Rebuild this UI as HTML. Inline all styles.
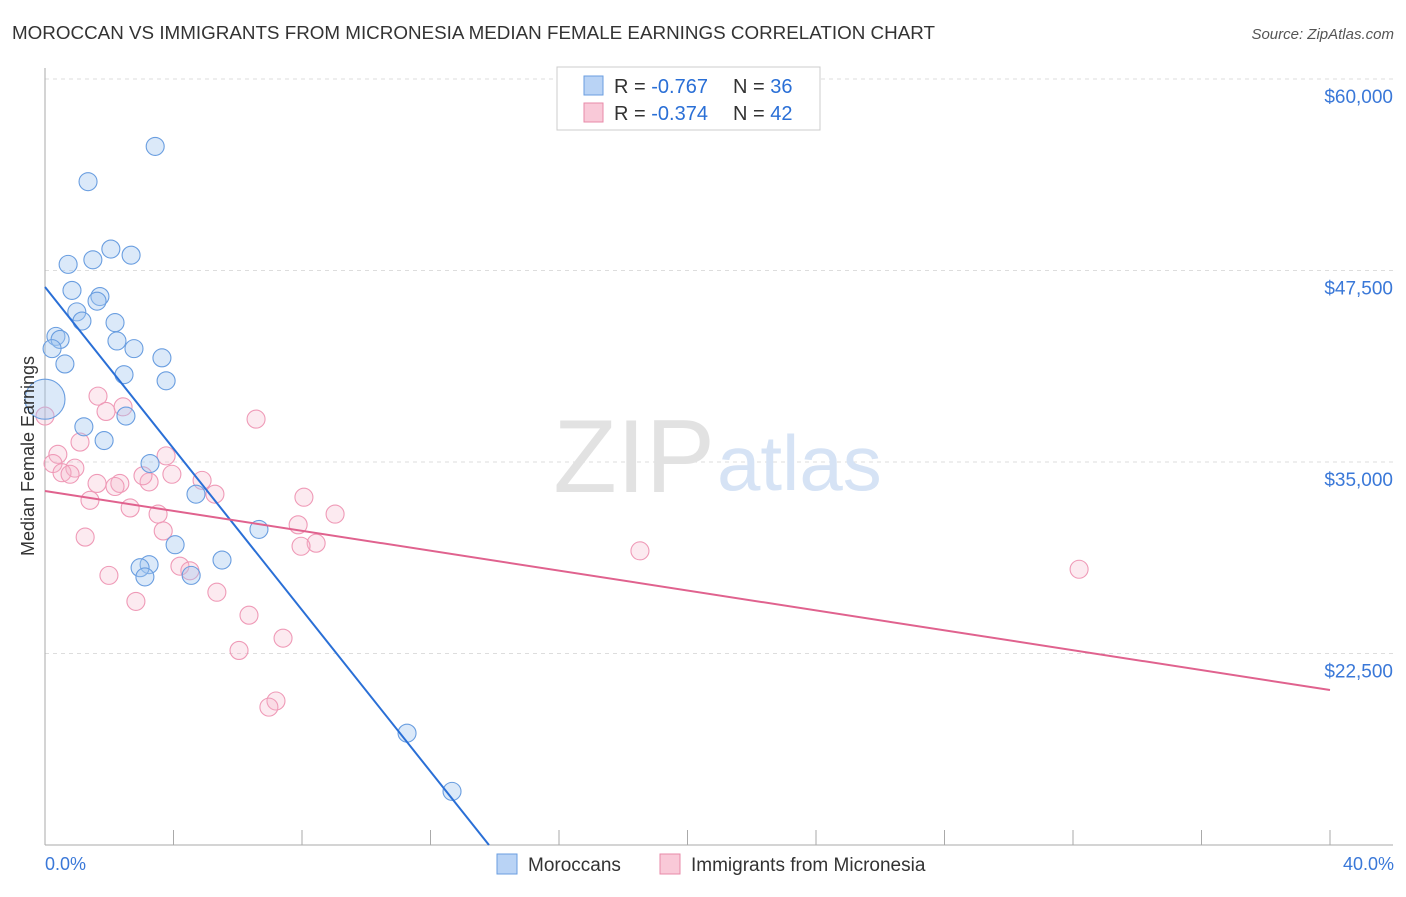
<!DOCTYPE html>
<html><head><meta charset="utf-8"><style>
body{margin:0;background:#fff;font-family:"Liberation Sans",Arial,sans-serif}
svg text{font-family:"Liberation Sans",Arial,sans-serif}
</style></head><body>
<svg id="chart" width="1406" height="892" viewBox="0 0 1406 892" xmlns="http://www.w3.org/2000/svg">
<text x="12" y="39" font-size="18" fill="#333" textLength="923" lengthAdjust="spacingAndGlyphs">MOROCCAN VS IMMIGRANTS FROM MICRONESIA MEDIAN FEMALE EARNINGS CORRELATION CHART</text>
<text x="1394" y="39" font-size="15" fill="#555" font-style="italic" text-anchor="end">Source: ZipAtlas.com</text>
<g id="grid"></g>
<text x="715" y="492" font-size="104" fill="#e2e2e2" text-anchor="end" font-family="Liberation Serif">ZIP</text>
<text x="717" y="490" font-size="78" fill="#d6e3f5">atlas</text>
<g id="axes"></g>
<g id="marks"></g>
<text transform="translate(34,456) rotate(-90)" font-size="18" fill="#333" text-anchor="middle">Median Female Earnings</text>
<text x="45" y="870" font-size="18" fill="#3a78d8">0.0%</text>
<text x="1394" y="870" font-size="18" fill="#3a78d8" text-anchor="end">40.0%</text>
<g>
<rect x="557" y="67" width="263" height="63" fill="#fff" stroke="#ccc"/>
<rect x="584" y="76" width="19" height="19" fill="#b9d3f5" stroke="#6a9ee0"/>
<rect x="584" y="103" width="19" height="19" fill="#f9c9d8" stroke="#e88aa8"/>
<text x="614" y="93" font-size="20" fill="#333">R = <tspan fill="#2a6fd6">-0.767</tspan></text>
<text x="733" y="93" font-size="20" fill="#333">N = <tspan fill="#2a6fd6">36</tspan></text>
<text x="614" y="120" font-size="20" fill="#333">R = <tspan fill="#2a6fd6">-0.374</tspan></text>
<text x="733" y="120" font-size="20" fill="#333">N = <tspan fill="#2a6fd6">42</tspan></text>
</g>
<g>
<rect x="497" y="854" width="20" height="20" fill="#b9d3f5" stroke="#6a9ee0"/>
<text x="528" y="871" font-size="19" fill="#333">Moroccans</text>
<rect x="660" y="854" width="20" height="20" fill="#f9c9d8" stroke="#e88aa8"/>
<text x="691" y="871" font-size="19" fill="#333">Immigrants from Micronesia</text>
</g>
</svg>
<script>
const yTicks=[22500,35000,47500,60000];
const yTickLabels=["$22,500","$35,000","$47,500","$60,000"];
const blueX=[3.43,1.34,2.05,2.68,1.49,0.72,0.84,1.71,1.62,0.99,1.15,2.18,0.34,0.47,2.24,0.22,2.77,3.64,0.62,2.46,3.77,0.0,1.21,2.52,1.84,3.27,4.70,6.66,4.05,5.51,3.24,2.96,3.11,4.55,11.27,12.67];
const blueY=[55600,53300,48900,48500,48200,47900,46200,45800,45500,44800,44200,44100,43200,43000,42900,42400,42400,41800,41400,40700,40300,39100,37300,38000,36400,34900,32900,30600,29600,28600,28300,28100,27500,27600,17300,13500];
const blueR=[9,9,9,9,9,9,9,9,9,9,9,9,9,9,9,9,9,9,9,9,9,20,9,9,9,9,9,9,9,9,9,9,9,9,9,9,9];
const pinkX=[0.0,1.65,1.90,2.43,6.57,1.09,0.40,3.77,0.25,0.93,0.53,0.78,1.62,2.33,3.24,2.18,3.05,3.95,4.89,5.29,8.06,1.40,2.65,3.52,9.03,7.88,3.68,8.44,1.25,7.97,18.52,4.20,4.51,1.99,32.19,5.35,2.83,6.35,6.04,7.41,7.19,6.97];
const pinkY=[38000,39300,38300,38600,37800,36300,35500,35400,34900,34600,34300,34200,33600,33600,33700,33400,34100,34200,33800,32900,32700,32500,32000,31600,31600,30900,30500,29700,30100,29500,29200,28200,27900,27600,28000,26500,25900,25000,22700,23500,19400,19000];
const blueLine=[46420,10000,0,13.82];
const pinkLine=[33106,20117,0,40];
const X=v=>45+v*32.125, Y=v=>845-(v-10000)*766/50000;
const NS="http://www.w3.org/2000/svg";
function mk(tag,attrs,parent){const e=document.createElementNS(NS,tag);for(const k in attrs)e.setAttribute(k,attrs[k]);parent.appendChild(e);return e;}
const grid=document.getElementById('grid'),axes=document.getElementById('axes'),marks=document.getElementById('marks'),svg=document.getElementById('chart');
yTicks.forEach((t,i)=>{
 const l=mk('line',{x1:45,x2:1393,y1:Y(t),y2:Y(t),stroke:'#ddd','stroke-dasharray':'4,4'},grid);
 
 
 const tx=mk('text',{x:1393,y:Y(t)+24,'font-size':19,fill:'#3a78d8','text-anchor':'end'},svg);
 tx.textContent=yTickLabels[i];
 
 
});
const gl=mk('line',{x1:45,x2:1393,y1:79,y2:79,stroke:'#ddd','stroke-dasharray':'4,4'},grid);


mk('line',{x1:45,x2:45,y1:68,y2:845,stroke:'#aaa'},axes);
mk('line',{x1:45,x2:1393,y1:845,y2:845,stroke:'#aaa'},axes);
for(let i=0;i<=10;i++){const t=mk('line',{x1:X(i*4),x2:X(i*4),y1:830,y2:845,stroke:'#aaa'},axes);
 
 }
pinkX.forEach((x,i)=>{const c=mk('circle',{cx:X(x),cy:Y(pinkY[i]),r:9,fill:'rgba(246,180,202,0.28)',stroke:'#ef9ab7','stroke-width':1.1},marks);
 
 });
blueX.forEach((x,i)=>{const c=mk('circle',{cx:X(x),cy:Y(blueY[i]),r:blueR[i],fill:'rgba(160,196,240,0.38)',stroke:'#6a9ee0','stroke-width':1.1},marks);
 
 });
const bl=mk('line',{x1:X(blueLine[2]),y1:Y(blueLine[0]),x2:X(blueLine[3]),y2:Y(blueLine[1]),stroke:'#2a6fd6','stroke-width':2},marks);


const pl=mk('line',{x1:X(pinkLine[2]),y1:Y(pinkLine[0]),x2:X(pinkLine[3]),y2:Y(pinkLine[1]),stroke:'#e0628e','stroke-width':2},marks);


</script>
</body></html>
